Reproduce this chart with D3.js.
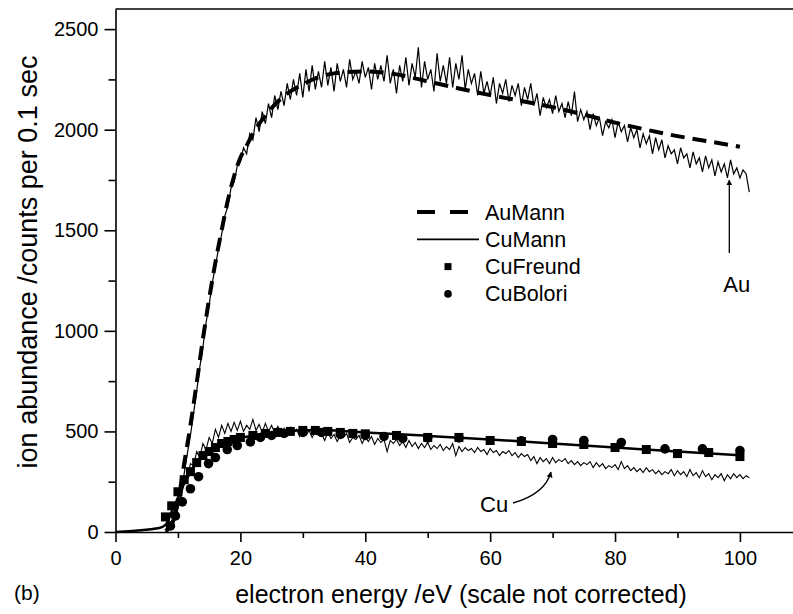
<!DOCTYPE html>
<html>
<head>
<meta charset="utf-8">
<script src="https://cdnjs.cloudflare.com/ajax/libs/d3/7.8.5/d3.min.js"></script>
<style>
  body { margin: 0; background: #fff; }
  svg { display: block; }
  text { font-family: "Liberation Sans", Arial, Helvetica, sans-serif; fill: #000; }
</style>
</head>
<body>
<svg id="chart" width="793" height="614"></svg>
<script>
// ---- data ----
// measured traces, sampled every 0.5 eV
var traceStep = 0.5;
var auTraceStart = 9;
var auTrace = [20,60,120,200,290,390,480,590,700,820,920,1040,1130,1240,1320,1410,1480,1570,1620,1710,
  1740,1820,1840,1910,1880,1980,1950,2060,1990,2090,2030,2130,2060,2170,2100,2190,2120,2230,2150,2250,
  2170,2280,2160,2300,2190,2320,2200,2290,2210,2340,2220,2310,2190,2330,2240,2300,2210,2350,2250,2290,
  2230,2340,2260,2310,2200,2330,2250,2320,2240,2370,2230,2300,2180,2320,2240,2360,2220,2330,2260,2410,
  2210,2340,2250,2300,2190,2380,2240,2320,2230,2360,2210,2330,2250,2370,2200,2300,2230,2280,2170,2290,
  2180,2240,2170,2260,2130,2230,2180,2250,2140,2220,2170,2230,2120,2210,2150,2230,2120,2180,2070,2160,
  2110,2150,2080,2170,2090,2130,2060,2140,2070,2190,2040,2100,2050,2090,2000,2080,2020,2060,1970,2040,
  2010,2050,1960,2040,1990,2020,1940,2010,1960,2000,1910,1980,1930,1970,1880,1960,1900,1950,1860,1920,
  1880,1900,1830,1910,1860,1880,1810,1890,1830,1860,1790,1870,1810,1850,1770,1840,1790,1830,1760,1850,
  1780,1810,1760,1800,1780,1690];

var cuTraceStart = 8;
var cuTrace = [0,8,35,60,130,170,250,270,340,330,400,370,440,410,470,440,510,470,530,490,
  540,500,545,505,550,500,530,510,560,505,535,495,540,500,530,490,525,495,515,480,
  520,490,510,475,515,480,505,470,500,480,490,455,495,465,485,450,480,470,490,445,
  470,460,480,440,470,450,475,435,465,445,460,400,455,440,460,430,450,420,455,425,
  445,415,440,420,445,410,430,415,435,405,425,410,440,380,425,400,420,405,415,395,
  420,400,410,385,415,395,405,380,400,390,405,380,395,370,390,375,385,355,375,340,
  370,350,365,340,370,345,360,350,365,340,355,335,350,330,345,335,350,320,345,325,
  340,315,330,320,335,310,350,315,330,305,320,300,315,295,320,300,310,290,305,285,
  300,290,310,280,305,285,300,275,310,280,295,270,305,275,290,260,285,270,290,255,
  285,265,290,270,285,265,280,270];

// model curves
var auMannE = [8,9,10,11,12,13,14,15,16,17,18,19,20,21,22,24,26,28,30,32,35,40,45,50,55,60,65,70,75,80,85,90,95,100];
var auMannV = [5,40,150,340,530,740,960,1160,1340,1500,1650,1770,1860,1920,1980,2070,2140,2190,2225,2255,2280,2290,2275,2240,2205,2172,2143,2112,2075,2035,2000,1968,1942,1915];

var cuMannE = [0,7,8,9,10,11,12,13,14,15,16,17,18,20,22,25,28,32,40,50,60,70,80,90,100];
var cuMannV = [0,20,35,100,170,240,295,345,380,405,422,440,452,468,480,495,503,507,495,478,460,440,420,400,382];

var cuFreundE = [8,9,10,11,12,13,14,15,16,17,18,19,20,22,24,26,28,30,32,34,36,38,40,45,50,55,60,65,70,75,80,85,90,95,100];
var cuFreundV = [75,130,200,260,300,345,380,400,420,440,450,460,470,480,490,495,500,505,505,500,495,490,488,480,470,470,455,450,440,435,420,410,390,395,375];

var cuBoloriE = [8.8,9.6,10.7,12,13.3,14.9,16,17.9,19.5,21.6,23.2,25,27,30,33,36,40,43,46,50,55,65,70,75,81,88,94,100];
var cuBoloriV = [30,80,150,215,275,340,370,410,430,448,470,480,490,495,495,485,480,475,465,468,468,453,460,455,445,413,413,405];

var xTicks = [0,20,40,60,80,100];
var xMinor = [10,30,50,70,90];
var yTicks = [0,500,1000,1500,2000,2500];
var yMinor = [250,750,1250,1750,2250];

var legendNames = ["AuMann","CuMann","CuFreund","CuBolori"];

function translate(x, y){ return "translate(" + x + "," + y + ")"; }

var svg = d3.select("#chart");

var x = d3.scaleLinear().domain([0, 108.5]).range([115.5, 793]);
var y = d3.scaleLinear().domain([0, 2600]).range([532, 9]);

var line = d3.line().x(d => x(d[0])).y(d => y(d[1]));

// top frame line
svg.append("line")
  .attr("x1", x(0)).attr("x2", 793)
  .attr("y1", y(2600)).attr("y2", y(2600))
  .style("stroke", "#000").style("stroke-width", 1.5);

// ---- axes ----
svg.append("g").attr("transform", translate(x(0), 0))
  .call(d3.axisLeft(y).tickValues(yTicks).tickSize(11).tickSizeOuter(0).tickPadding(6).tickFormat(d3.format("d")));
svg.append("g").attr("transform", translate(x(0), 0))
  .call(d3.axisLeft(y).tickValues(yMinor).tickSize(7).tickSizeOuter(0).tickFormat(""))
  .select(".domain").remove();

svg.append("g").attr("transform", translate(0, y(0)))
  .call(d3.axisBottom(x).tickValues(xTicks).tickSize(10).tickSizeOuter(0).tickPadding(9).tickFormat(d3.format("d")));
svg.append("g").attr("transform", translate(0, y(0)))
  .call(d3.axisBottom(x).tickValues(xMinor).tickSize(6).tickSizeOuter(0).tickFormat(""))
  .select(".domain").remove();

svg.selectAll(".domain, .tick line").style("stroke", "#000").style("stroke-width", 1.6);
svg.selectAll(".tick text").style("font-size", "20px").style("font-family", "'Liberation Sans', Arial, sans-serif").attr("fill", "#000");

// axis titles
svg.append("text")
  .text("electron energy /eV (scale not corrected)")
  .attr("x", 461).attr("y", 603)
  .style("text-anchor", "middle")
  .style("font-size", "25px");

svg.append("text")
  .text("ion abundance /counts per 0.1 sec")
  .attr("transform", translate(37, 262) + " rotate(-90)")
  .style("text-anchor", "middle")
  .style("font-size", "27px");

svg.append("text")
  .text("(b)")
  .attr("x", 14).attr("y", 600)
  .style("font-size", "21px");

// ---- measured traces ----
var auPts = auTrace.map((v, i) => [auTraceStart + i * traceStep, v]);
var cuPts = cuTrace.map((v, i) => [cuTraceStart + i * traceStep, v]);

svg.append("path").datum(auPts)
  .attr("d", line)
  .style("fill", "none").style("stroke", "#000").style("stroke-width", 1.2);

svg.append("path").datum(cuPts)
  .attr("d", line)
  .style("fill", "none").style("stroke", "#000").style("stroke-width", 1.1);

// ---- model curves ----
svg.append("path").datum(auMannE.map((e, i) => [e, auMannV[i]]))
  .attr("d", line.curve(d3.curveMonotoneX))
  .style("fill", "none").style("stroke", "#000").style("stroke-width", 4)
  .style("stroke-dasharray", "14,8");

svg.append("path").datum(cuMannE.map((e, i) => [e, cuMannV[i]]))
  .attr("d", line.curve(d3.curveMonotoneX))
  .style("fill", "none").style("stroke", "#000").style("stroke-width", 2.5);

// ---- markers ----
svg.selectAll(".freund").data(cuFreundE.map((e, i) => [e, cuFreundV[i]]))
  .enter().append("rect")
  .attr("class", "freund")
  .attr("x", d => x(d[0]) - 4.5).attr("y", d => y(d[1]) - 4.5)
  .attr("width", 9).attr("height", 9)
  .attr("fill", "#000");

svg.selectAll(".bolori").data(cuBoloriE.map((e, i) => [e, cuBoloriV[i]]))
  .enter().append("circle")
  .attr("class", "bolori")
  .attr("cx", d => x(d[0])).attr("cy", d => y(d[1]))
  .attr("r", 4.8)
  .attr("fill", "#000");

// ---- legend ----
var legend = svg.append("g").attr("transform", translate(417, 212));
legendNames.forEach(function(name, i){
  var row = legend.append("g").attr("transform", translate(0, i * 27.3));
  if (i == 0){
    row.append("line").attr("x1", 0).attr("x2", 52).attr("y1", 0).attr("y2", 0)
      .style("stroke", "#000").style("stroke-width", 4).style("stroke-dasharray", "18,15");
  } else if (i == 1){
    row.append("line").attr("x1", 0).attr("x2", 62).attr("y1", 0).attr("y2", 0)
      .style("stroke", "#000").style("stroke-width", 1.8);
  } else if (i == 2){
    row.append("rect").attr("x", 27.5).attr("y", -3.5).attr("width", 7).attr("height", 7).attr("fill", "#000");
  } else {
    row.append("circle").attr("cx", 31).attr("cy", 0).attr("r", 3.8).attr("fill", "#000");
  }
  row.append("text")
    .text(name)
    .attr("x", 68).attr("y", 7.5)
    .style("font-size", "21.5px");
});

// ---- annotations ----
var defs = svg.append("defs");
defs.append("marker")
  .attr("id", "head")
  .attr("viewBox", "0 0 10 10")
  .attr("refX", 9).attr("refY", 5)
  .attr("markerWidth", 6).attr("markerHeight", 6)
  .attr("markerUnits", "userSpaceOnUse")
  .attr("orient", "auto")
  .append("path").attr("d", "M0,0 L10,5 L0,10 Z").attr("fill", "#000");

// Au arrow
svg.append("line")
  .attr("x1", x(98.3)).attr("y1", 253)
  .attr("x2", x(98.3)).attr("y2", 180)
  .style("stroke", "#000").style("stroke-width", 1.3)
  .attr("marker-end", "url(#head)");
svg.append("text").text("Au")
  .attr("x", x(99.5)).attr("y", 292)
  .style("text-anchor", "middle")
  .style("font-size", "22px");

// Cu arrow
svg.append("path")
  .attr("d", "M513,503 Q545,494 551,472")
  .style("fill", "none").style("stroke", "#000").style("stroke-width", 1.3)
  .attr("marker-end", "url(#head)");
svg.append("text").text("Cu")
  .attr("x", 480).attr("y", 512)
  .style("font-size", "22px");
</script>
</body>
</html>
